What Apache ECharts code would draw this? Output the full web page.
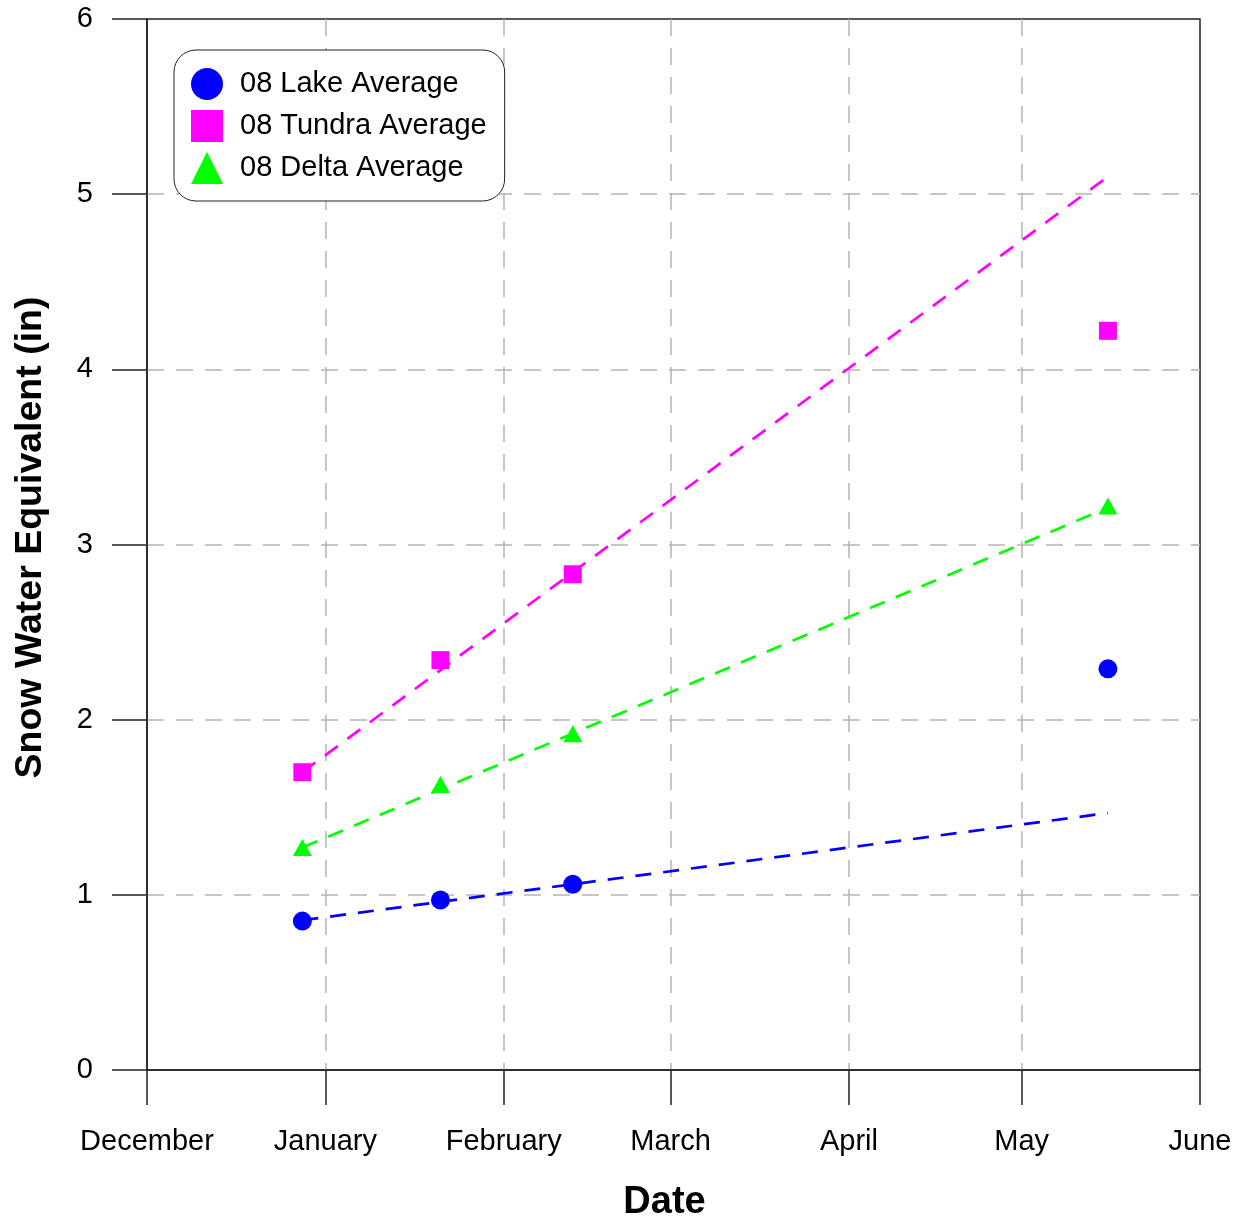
<!DOCTYPE html>
<html>
<head>
<meta charset="utf-8">
<script src="https://cdn.jsdelivr.net/npm/echarts@6/dist/echarts.min.js"></script>
<style>
html,body{margin:0;padding:0;background:#fff;}
#chart{width:1244px;height:1220px;}
</style>
</head>
<body>
<div id="chart"></div>
<script>
// ---- data ----
const monthTicks = ['2007-12-01','2008-01-01','2008-02-01','2008-03-01','2008-04-01','2008-05-01','2008-06-01'];
const monthNames = ['December','January','February','March','April','May','June'];
const sampleDates = ['2007-12-28','2008-01-21','2008-02-13','2008-05-16'];
const lakeValues = [0.85, 0.97, 1.06, 2.29];
const tundraValues = [1.70, 2.34, 2.83, 4.22];
const deltaValues = [1.27, 1.63, 1.92, 3.22];
const trendDates = ['2007-12-28','2008-05-16'];
const lakeTrend = [0.855, 1.467];
const tundraTrend = [1.70, 5.10];
const deltaTrend = [1.27, 3.21];
const yTicks = [0,1,2,3,4,5,6];

// day count since the first tick, used as the x scale
const DAY = 86400000;
function toDay(s){ const p=s.split('-').map(Number); return Math.round((Date.UTC(p[0],p[1]-1,p[2]) - Date.UTC(2007,11,1))/DAY); }
function pairs(dates, vals){ return dates.map((d,i)=>[toDay(d), vals[i]]); }
const tickDays = monthTicks.map(toDay);

const chart = echarts.init(document.getElementById('chart'), null, {renderer:'canvas'});
const FONT = 'Liberation Sans, Arial, sans-serif';
const gridLine = {show:true, showMinLine:false, showMaxLine:false, lineStyle:{color:'#b4b4b4', width:1.5, type:[17,12]}};
const trendStyle = (c)=>({color:c, width:2.7, type:[16,12]});

chart.setOption({
  animation:false,
  backgroundColor:'#fff',
  grid:{left:147, right:44, top:19, bottom:150, outerBoundsMode:'none', containLabel:false, show:true, borderColor:'#222', borderWidth:1.5, backgroundColor:'transparent'},
  legend:{
    orient:'vertical', left:174, top:50,
    padding:[18,18,17,17], itemGap:10, itemWidth:32, itemHeight:32,
    borderColor:'#222', borderWidth:1, borderRadius:22, backgroundColor:'#fff',
    textStyle:{fontFamily:FONT, fontSize:29, color:'#000', padding:[0,0,0,12]},
    data:[{name:'08 Lake Average', icon:'circle'},{name:'08 Tundra Average', icon:'rect'},{name:'08 Delta Average', icon:'triangle'}]
  },
  xAxis:{
    type:'value', min:tickDays[0], max:tickDays[tickDays.length-1],
    name:'Date', nameLocation:'middle', nameGap:114,
    nameTextStyle:{fontFamily:FONT, fontSize:38, fontWeight:'bold', color:'#000', padding:[0,18,0,0]},
    axisLine:{show:true, onZero:false, lineStyle:{color:'#222', width:1.5}},
    axisTick:{show:true, length:35, lineStyle:{color:'#222', width:1.5}, customValues:tickDays},
    axisLabel:{fontFamily:FONT, fontSize:29, color:'#000', margin:57, customValues:tickDays, showMinLabel:true, showMaxLabel:true,
      formatter:function(v){ const i=tickDays.indexOf(v); return i>=0?monthNames[i]:''; }},
    splitLine:gridLine
  },
  yAxis:{
    type:'value', min:0, max:6, interval:1,
    name:'Snow Water Equivalent (in)', nameLocation:'middle', nameGap:97,
    nameTextStyle:{fontFamily:FONT, fontSize:37.5, fontWeight:'bold', color:'#000', padding:[0,0,0,14]},
    axisLine:{show:true, onZero:false, lineStyle:{color:'#222', width:1.5}},
    axisTick:{show:true, length:35, lineStyle:{color:'#222', width:1.5}},
    axisLabel:{fontFamily:FONT, fontSize:29, color:'#000', margin:54, formatter:function(v){return yTicks.indexOf(v)>=0?String(v):'';}},
    splitLine:gridLine
  },
  series:[
    {type:'line', name:'lakeTrend', data:pairs(trendDates, lakeTrend), symbol:'none', lineStyle:trendStyle('#0000ff'), z:2, silent:true},
    {type:'line', name:'tundraTrend', data:pairs(trendDates, tundraTrend), symbol:'none', lineStyle:trendStyle('#ff00ff'), z:2, silent:true},
    {type:'line', name:'deltaTrend', data:pairs(trendDates, deltaTrend), symbol:'none', lineStyle:trendStyle('#00ff00'), z:2, silent:true},
    {type:'scatter', name:'08 Lake Average', data:pairs(sampleDates, lakeValues), symbol:'circle', symbolSize:19, itemStyle:{color:'#0000ff', opacity:1}, z:5},
    {type:'scatter', name:'08 Tundra Average', data:pairs(sampleDates, tundraValues), symbol:'rect', symbolSize:18, itemStyle:{color:'#ff00ff', opacity:1}, z:5},
    {type:'scatter', name:'08 Delta Average', data:pairs(sampleDates, deltaValues), symbol:'triangle', symbolSize:[19,17], itemStyle:{color:'#00ff00', opacity:1}, z:5}
  ]
});
</script>
</body>
</html>
